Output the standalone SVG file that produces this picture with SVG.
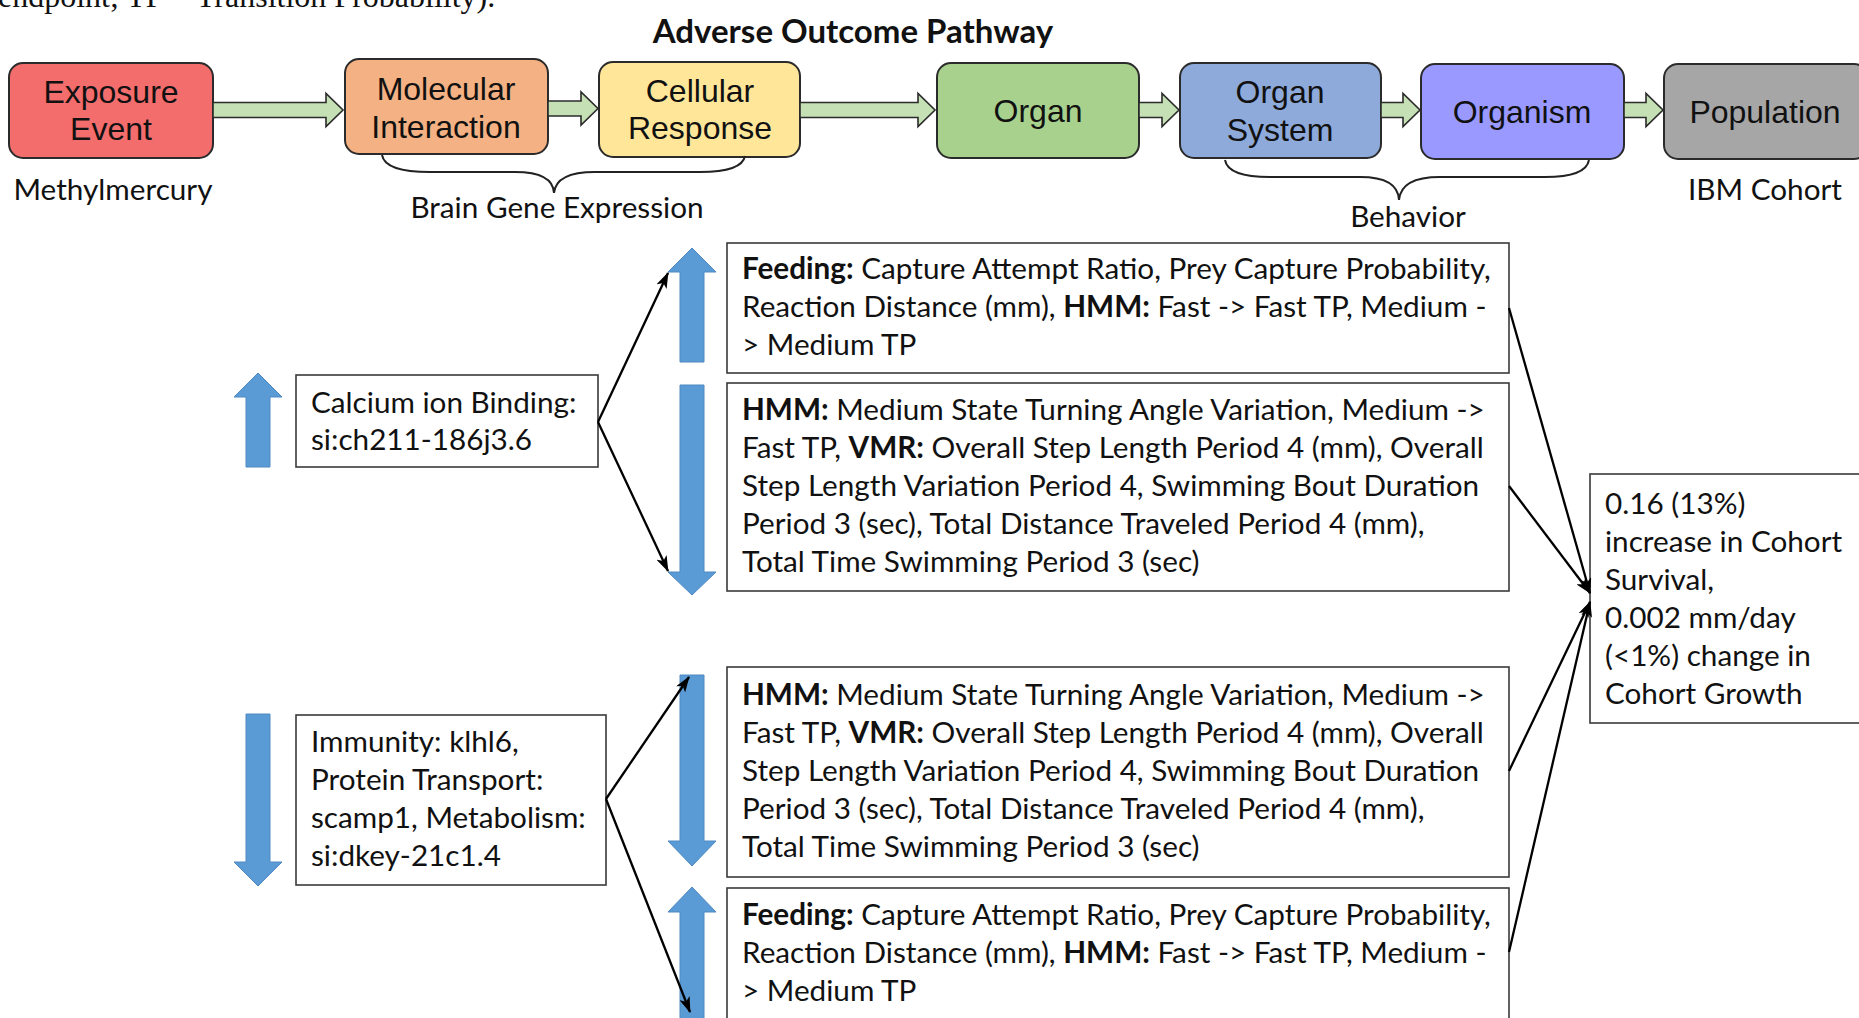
<svg xmlns="http://www.w3.org/2000/svg" width="1859" height="1018" viewBox="0 0 1859 1018">
<style>
.bx{stroke:#2b2b2b;stroke-width:2}
.tb{fill:#fff;stroke:#3a3a3a;stroke-width:1.6}
.ga{fill:#c5e0b4;stroke:#2b2b2b;stroke-width:1.6}
.ba{fill:#5b9bd5;stroke:#4f89c2;stroke-width:1}
.hd{font-family:"Liberation Sans",Arial,sans-serif;font-size:32px;fill:#111;text-anchor:middle}
.t{font-family:Lato,"Open Sans",sans-serif;font-size:29.7px;fill:#111}
.c{text-anchor:middle}
.b{font-weight:bold}
.ln{stroke:#000;stroke-width:2.3;fill:none;marker-end:url(#ah)}
.br{stroke:#222;stroke-width:2;fill:none}
</style>
<defs>
<marker id="ah" viewBox="0 0 16 11" refX="15" refY="5.5" markerWidth="16" markerHeight="11" markerUnits="userSpaceOnUse" orient="auto">
<path d="M0,0 L16,5.5 L0,11 L4,5.5 Z" fill="#000"/>
</marker>
</defs>
<rect width="1859" height="1018" fill="#fff"/>
<text x="-2" y="7" font-family="'Liberation Serif',serif" font-size="32" fill="#111">endpoint; TP = Transition Probability).</text>
<text id="title" x="853" y="43" class="t c b" style="font-size:33px">Adverse Outcome Pathway</text>

<g id="exposure-event"><rect class="bx" x="9" y="63" width="204" height="95" rx="14" fill="#f46d6d"/><text class="hd" x="111" y="103">Exposure</text><text class="hd" x="111" y="140">Event</text></g>
<g id="molecular-interaction"><rect class="bx" x="345" y="59" width="203" height="95" rx="14" fill="#f4b183"/><text class="hd" x="446" y="100">Molecular</text><text class="hd" x="446" y="138">Interaction</text></g>
<g id="cellular-response"><rect class="bx" x="599" y="62" width="201" height="95" rx="14" fill="#ffe699"/><text class="hd" x="700" y="102">Cellular</text><text class="hd" x="700" y="139">Response</text></g>
<g id="organ"><rect class="bx" x="937" y="63" width="202" height="95" rx="14" fill="#a9d18e"/><text class="hd" x="1038" y="122">Organ</text></g>
<g id="organ-system"><rect class="bx" x="1180" y="63" width="201" height="95" rx="14" fill="#8eaadb"/><text class="hd" x="1280" y="103">Organ</text><text class="hd" x="1280" y="141">System</text></g>
<g id="organism"><rect class="bx" x="1421" y="64" width="203" height="95" rx="14" fill="#9999ff"/><text class="hd" x="1522" y="123">Organism</text></g>
<g id="population"><rect class="bx" x="1664" y="64" width="204" height="95" rx="14" fill="#a6a6a6"/><text class="hd" x="1765" y="123">Population</text></g>

<g id="labels">
<text class="t c" x="113" y="200">Methylmercury</text>
<text class="t c" x="557" y="218">Brain Gene Expression</text>
<text class="t c" x="1408" y="227">Behavior</text>
<text class="t c" x="1765" y="200">IBM Cohort</text>
<path class="br" d="M382 155 Q385 172 430 172 L515 172 Q553 172 554 193 Q556 172 595 172 L700 172 Q742 172 745 156"/>
<path class="br" d="M1225 160 Q1228 177 1270 177 L1360 177 Q1398 177 1399 200 Q1401 177 1440 177 L1545 177 Q1586 177 1589 160"/>
</g>

<g id="pathway-arrows">
<path class="ga" d="M213,102.5 H326 V93.5 L343,110 L326,126.5 V117.5 H213 Z"/>
<path class="ga" d="M548,101 H581 V92 L598,108.5 L581,125 V116 H548 Z"/>
<path class="ga" d="M800,102.5 H918 V93.5 L935,110 L918,126.5 V117.5 H800 Z"/>
<path class="ga" d="M1139,102.5 H1162 V93.5 L1179,110 L1162,126.5 V117.5 H1139 Z"/>
<path class="ga" d="M1381,102.5 H1403 V93.5 L1420,110 L1403,126.5 V117.5 H1381 Z"/>
<path class="ga" d="M1624,102.5 H1646 V93.5 L1663,110 L1646,126.5 V117.5 H1624 Z"/>
</g>

<g id="trend-arrows">
<path class="ba" d="M246,467 V397 H234 L258,373 L282,397 H270 V467 Z"/>
<path class="ba" d="M680,362 V272 H668 L692,248 L716,272 H704 V362 Z"/>
<path class="ba" d="M680,385 V572 H668 L692,595 L716,572 H704 V385 Z"/>
<path class="ba" d="M246,714 V862 H234 L258,886 L282,862 H270 V714 Z"/>
<path class="ba" d="M680,675 V841 H668 L692,866 L716,841 H704 V675 Z"/>
<path class="ba" d="M680,1030 V912 H668 L692,887 L716,912 H704 V1030 Z"/>
</g>

<g id="calcium"><rect class="tb" x="296" y="375" width="302" height="92"/>
<text class="t" x="311" y="413">Calcium ion Binding:</text><text class="t" x="311" y="450">si:ch211-186j3.6</text></g>

<g id="immunity"><rect class="tb" x="296" y="715" width="310" height="170"/>
<text class="t" x="311" y="752">Immunity: klhl6,</text><text class="t" x="311" y="790">Protein Transport:</text><text class="t" x="311" y="828">scamp1, Metabolism:</text><text class="t" x="311" y="866">si:dkey-21c1.4</text></g>

<g id="feeding-up-1"><rect class="tb" x="727" y="243" width="782" height="130"/>
<text class="t" x="742" y="279"><tspan class="b">Feeding:</tspan> Capture Attempt Ratio, Prey Capture Probability,</text>
<text class="t" x="742" y="317">Reaction Distance (mm), <tspan class="b">HMM:</tspan> Fast -&gt; Fast TP, Medium -</text>
<text class="t" x="742" y="355">&gt; Medium TP</text></g>

<g id="hmm-down-1"><rect class="tb" x="727" y="383" width="782" height="208"/>
<text class="t" x="742" y="420"><tspan class="b">HMM:</tspan> Medium State Turning Angle Variation, Medium -&gt;</text>
<text class="t" x="742" y="458">Fast TP, <tspan class="b">VMR:</tspan> Overall Step Length Period 4 (mm), Overall</text>
<text class="t" x="742" y="496">Step Length Variation Period 4, Swimming Bout Duration</text>
<text class="t" x="742" y="534">Period 3 (sec), Total Distance Traveled Period 4 (mm),</text>
<text class="t" x="742" y="572">Total Time Swimming Period 3 (sec)</text></g>

<g id="hmm-down-2"><rect class="tb" x="727" y="667" width="782" height="210"/>
<text class="t" x="742" y="705"><tspan class="b">HMM:</tspan> Medium State Turning Angle Variation, Medium -&gt;</text>
<text class="t" x="742" y="743">Fast TP, <tspan class="b">VMR:</tspan> Overall Step Length Period 4 (mm), Overall</text>
<text class="t" x="742" y="781">Step Length Variation Period 4, Swimming Bout Duration</text>
<text class="t" x="742" y="819">Period 3 (sec), Total Distance Traveled Period 4 (mm),</text>
<text class="t" x="742" y="857">Total Time Swimming Period 3 (sec)</text></g>

<g id="feeding-up-2"><rect class="tb" x="727" y="888" width="782" height="135"/>
<text class="t" x="742" y="925"><tspan class="b">Feeding:</tspan> Capture Attempt Ratio, Prey Capture Probability,</text>
<text class="t" x="742" y="963">Reaction Distance (mm), <tspan class="b">HMM:</tspan> Fast -&gt; Fast TP, Medium -</text>
<text class="t" x="742" y="1001">&gt; Medium TP</text></g>

<g id="result"><rect class="tb" x="1590" y="474" width="280" height="249"/>
<text class="t" x="1605" y="514">0.16 (13%)</text><text class="t" x="1605" y="552">increase in Cohort</text><text class="t" x="1605" y="590">Survival,</text><text class="t" x="1605" y="628">0.002 mm/day</text><text class="t" x="1605" y="666">(&lt;1%) change in</text><text class="t" x="1605" y="704">Cohort Growth</text></g>

<g id="connectors">
<line class="ln" x1="598" y1="422" x2="668" y2="273"/>
<line class="ln" x1="598" y1="422" x2="668" y2="571"/>
<line class="ln" x1="606" y1="799" x2="689" y2="677"/>
<line class="ln" x1="606" y1="799" x2="690" y2="1012"/>
<line class="ln" x1="1509" y1="308" x2="1590" y2="593"/>
<line class="ln" x1="1509" y1="486" x2="1590" y2="593"/>
<line class="ln" x1="1509" y1="771" x2="1590" y2="602"/>
<line class="ln" x1="1509" y1="952" x2="1590" y2="602"/>
</g>
</svg>
